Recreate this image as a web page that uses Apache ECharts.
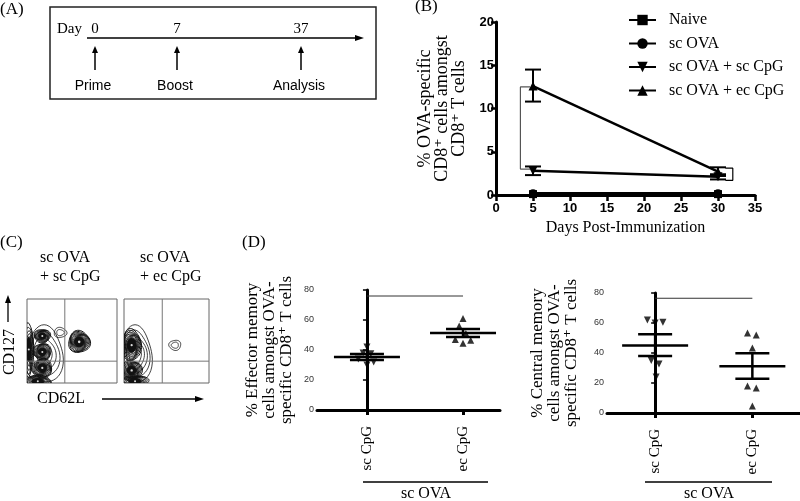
<!DOCTYPE html>
<html><head><meta charset="utf-8">
<script src="https://cdn.jsdelivr.net/npm/echarts@6/dist/echarts.min.js"></script>
<style>html,body{margin:0;padding:0;background:#fff}#c{width:800px;height:501px}</style>
</head><body><div id="c"></div>
<script>
// ---------- Panel A (schematic timeline) ----------
const timelineDays = ['0', '7', '37'];
const timelineEvents = ['Prime', 'Boost', 'Analysis'];

// ---------- Panel B ----------
const bDays = [5, 30];
const bNames = ['Naive', 'sc OVA', 'sc OVA + sc CpG', 'sc OVA + ec CpG'];
const bNaive = [0.1, 0.1];
const bScOva = [0.2, 0.2];
const bScCpg = [2.8, 2.1];
const bScCpgLow = [2.3, 1.8];
const bScCpgHigh = [3.3, 2.4];
const bEcCpg = [12.6, 2.7];
const bEcCpgLow = [10.8, 2.2];
const bEcCpgHigh = [14.5, 3.2];

// ---------- Panel C (flow contour sketches, % of plot box) ----------
const cTitles = [['sc OVA', '+ sc CpG'], ['sc OVA', '+ ec CpG']];
const cQuadLeft = ['41.1', '60.4'];
const cQuadRight = ['23.0', '5.38'];
const cGateX = [42, 45];
const cGateY = [26, 26];
// blob: [cx, cy, rx, ry, rings, dense]
const cBlobs1 = [
  [19, 33, 21, 34, 4, 0],
  [37, 60, 7, 6, 2, 0],
  [2, 40, 5, 32, 6, 1],
  [17, 56, 9, 8, 9, 1],
  [17, 37, 10, 10, 9, 1],
  [17, 18, 11, 11, 9, 1],
  [12, 2, 15, 7, 8, 1],
  [58, 49, 12, 13, 11, 1]
];
const cBlobs2 = [
  [13, 33, 20, 34, 5, 0],
  [9, 45, 11, 19, 10, 1],
  [9, 15, 12, 12, 9, 1],
  [13, 2, 16, 7, 8, 1],
  [60, 45, 7, 6, 2, 0]
];

// ---------- Panel D ----------
const dCategories = ['sc CpG', 'ec CpG'];
const dGroupLabel = 'sc OVA';
const dEffScJitter = [0, -0.04, 0.04, -0.09, 0.07, 0];
const dEffSc = [42, 38, 37.5, 34, 32, 30];
const dEffEcJitter = [0, -0.04, 0.03, -0.08, 0.08, 0];
const dEffEc = [61, 56, 51, 47, 46.5, 44.5];
const dEffMean = [35.3, 51.3];
const dEffLow = [33.3, 48.7];
const dEffHigh = [37.3, 54.0];
const dCenScJitter = [-0.08, 0, 0.08, -0.04, 0.04, 0.01];
const dCenSc = [62, 60, 60.5, 35, 32.7, 24];
const dCenEcJitter = [-0.05, 0.04, 0, -0.05, 0.04, 0];
const dCenEc = [53.3, 52, 43.3, 18, 16.7, 4.7];
const dCenMean = [45, 31.1];
const dCenLow = [38, 22.9];
const dCenHigh = [52.5, 39.8];

const SERIF = '"Liberation Serif","DejaVu Serif",serif';
const SANS = '"Liberation Sans","DejaVu Sans",Arial,sans-serif';

const chart = echarts.init(document.getElementById('c'));

function errItem(half) {
  return function (params, api) {
    const x = api.value(0);
    const lo = api.coord([x, api.value(1)]);
    const hi = api.coord([x, api.value(2)]);
    const st = { stroke: '#000', lineWidth: 2, fill: 'none' };
    return { type: 'group', children: [
      { type: 'line', shape: { x1: lo[0], y1: lo[1], x2: hi[0], y2: hi[1] }, style: st },
      { type: 'line', shape: { x1: lo[0] - half, y1: lo[1], x2: lo[0] + half, y2: lo[1] }, style: st },
      { type: 'line', shape: { x1: hi[0] - half, y1: hi[1], x2: hi[0] + half, y2: hi[1] }, style: st }
    ]};
  };
}
function meanItem(params, api) {
  const x = api.value(0);
  const m = api.coord([x, api.value(1)]);
  const lo = api.coord([x, api.value(2)]);
  const hi = api.coord([x, api.value(3)]);
  const st = { stroke: '#000', lineWidth: 2.5, fill: 'none' };
  return { type: 'group', children: [
    { type: 'line', shape: { x1: m[0] - 33, y1: m[1], x2: m[0] + 33, y2: m[1] }, style: st },
    { type: 'line', shape: { x1: lo[0], y1: lo[1], x2: hi[0], y2: hi[1] }, style: st },
    { type: 'line', shape: { x1: lo[0] - 17, y1: lo[1], x2: lo[0] + 17, y2: lo[1] }, style: st },
    { type: 'line', shape: { x1: hi[0] - 17, y1: hi[1], x2: hi[0] + 17, y2: hi[1] }, style: st }
  ]};
}
function contourItem(params, api) {
  const c = api.coord([api.value(0), api.value(1)]);
  const sz = api.size([api.value(2), api.value(3)]);
  const n = api.value(4), dense = api.value(5);
  const children = [];
  for (let k = 0; k < n; k++) {
    const s = 1 - k * (0.8 / n);
    const pts = [];
    for (let t = 0; t < 48; t++) {
      const a = t / 48 * 2 * Math.PI;
      const w = 1 + 0.07 * Math.sin(3 * a + k * 0.7 + params.dataIndex);
      pts.push([c[0] + sz[0] * s * w * Math.cos(a), c[1] + sz[1] * s * w * Math.sin(a)]);
    }
    children.push({ type: 'polygon', shape: { points: pts }, style: { fill: 'none', stroke: '#111', lineWidth: dense ? 1 : 0.8 } });
  }
  if (dense) {
    const pts = [];
    for (let t = 0; t < 36; t++) {
      const a = t / 36 * 2 * Math.PI;
      pts.push([c[0] + sz[0] * 0.45 * Math.cos(a), c[1] + sz[1] * 0.45 * Math.sin(a)]);
    }
    children.push({ type: 'polygon', shape: { points: pts }, style: { fill: '#111', stroke: '#111' } });
    children.push({ type: 'circle', shape: { cx: c[0], cy: c[1], r: Math.max(1, Math.min(sz[0], sz[1]) * 0.12) }, style: { fill: '#ddd' } });
  }
  return { type: 'group', children };
}

const bAxisLabel = { color: '#000', fontFamily: SANS, fontWeight: 'bold', fontSize: 13 };
const dAxisLabel = { color: '#333', fontFamily: SANS, fontSize: 9, margin: 3 };
const thickAxis = { lineStyle: { color: '#000', width: 3 } };

const graphics = [];
// panel letters
graphics.push({ type: 'text', x: 0, y: 10, style: { text: '(A)', font: '17px ' + SERIF, fill: '#000', verticalAlign: 'middle' } });
graphics.push({ type: 'text', x: 415, y: 7, style: { text: '(B)', font: '17px ' + SERIF, fill: '#000', verticalAlign: 'middle' } });
graphics.push({ type: 'text', x: 0, y: 243, style: { text: '(C)', font: '17px ' + SERIF, fill: '#000', verticalAlign: 'middle' } });
graphics.push({ type: 'text', x: 242, y: 243, style: { text: '(D)', font: '17px ' + SERIF, fill: '#000', verticalAlign: 'middle' } });
// Panel A
graphics.push({ type: 'rect', shape: { x: 50, y: 7, width: 326, height: 92 }, style: { fill: 'none', stroke: '#222', lineWidth: 1.5 } });
graphics.push({ type: 'text', x: 57, y: 29, style: { text: 'Day', font: '15px ' + SERIF, fill: '#000', verticalAlign: 'middle' } });
graphics.push({ type: 'line', shape: { x1: 87, y1: 38, x2: 358, y2: 38 }, style: { stroke: '#000', lineWidth: 1.3 } });
graphics.push({ type: 'polygon', shape: { points: [[355, 35], [364, 38], [355, 41]] }, style: { fill: '#000' } });
const aX = [95, 177, 301];
timelineDays.forEach((d, i) => {
  graphics.push({ type: 'text', x: aX[i], y: 29, style: { text: d, font: '15px ' + SERIF, fill: '#000', align: 'center', verticalAlign: 'middle' } });
  graphics.push({ type: 'line', shape: { x1: aX[i], y1: 70, x2: aX[i], y2: 52 }, style: { stroke: '#000', lineWidth: 1.5 } });
  graphics.push({ type: 'polygon', shape: { points: [[aX[i] - 3, 53], [aX[i], 46], [aX[i] + 3, 53]] }, style: { fill: '#000' } });
  graphics.push({ type: 'text', x: aX[i] - 2, y: 86, style: { text: timelineEvents[i], font: '14px ' + SANS, fill: '#000', align: 'center', verticalAlign: 'middle' } });
});
// Panel C labels
const cTX = [40, 140];
cTitles.forEach((t, i) => {
  graphics.push({ type: 'text', x: cTX[i], y: 258, style: { text: t[0], font: '16px ' + SERIF, fill: '#000', verticalAlign: 'middle' } });
  graphics.push({ type: 'text', x: cTX[i], y: 277, style: { text: t[1], font: '16px ' + SERIF, fill: '#000', verticalAlign: 'middle' } });
});
graphics.push({ type: 'text', x: 10, y: 352, rotation: Math.PI / 2, style: { text: 'CD127', font: '16px ' + SERIF, fill: '#000', align: 'center', verticalAlign: 'middle' } });
graphics.push({ type: 'line', shape: { x1: 8, y1: 322, x2: 8, y2: 302 }, style: { stroke: '#000', lineWidth: 1.3 } });
graphics.push({ type: 'polygon', shape: { points: [[5, 303], [8, 295], [11, 303]] }, style: { fill: '#000' } });
graphics.push({ type: 'text', x: 37, y: 399, style: { text: 'CD62L', font: '16px ' + SERIF, fill: '#000', verticalAlign: 'middle' } });
graphics.push({ type: 'line', shape: { x1: 102, y1: 399, x2: 197, y2: 399 }, style: { stroke: '#000', lineWidth: 1.3 } });
graphics.push({ type: 'polygon', shape: { points: [[195, 396], [204, 399], [195, 402]] }, style: { fill: '#000' } });
// Panel D group labels
[[363, 488, 426], [645, 772, 709]].forEach(g => {
  graphics.push({ type: 'line', shape: { x1: g[0], y1: 482, x2: g[1], y2: 482 }, style: { stroke: '#000', lineWidth: 1.3 } });
  graphics.push({ type: 'text', x: g[2], y: 494, style: { text: dGroupLabel, font: '16px ' + SERIF, fill: '#000', align: 'center', verticalAlign: 'middle' } });
});

const dXBase = (grid, min, max) => ({
  gridIndex: grid, type: 'value', min: min, max: max,
  axisLine: thickAxis,
  axisTick: { show: true, customValues: [0, 1], length: 5, lineStyle: { color: '#000', width: 3 } },
  axisLabel: { customValues: [0, 1], rotate: 90, margin: 16, color: '#000', fontFamily: SERIF, fontSize: 15,
    formatter: v => dCategories[Math.round(v)] },
  splitLine: { show: false }
});
const dYBase = (grid, name, gap) => ({
  gridIndex: grid, type: 'value', min: 0, max: 80, interval: 20,
  axisLine: { show: true, lineStyle: { color: '#000', width: 3 } },
  axisTick: { show: true, length: 4, lineStyle: { color: '#000', width: 1.5 } },
  axisLabel: dAxisLabel, splitLine: { show: false },
  name: name, nameLocation: 'middle', nameGap: gap,
  nameTextStyle: { fontFamily: SERIF, fontSize: 17, lineHeight: 17, color: '#000' }
});
const hiddenAxis = (grid) => ({ gridIndex: grid, type: 'value', min: 0, max: 100, show: false });

const option = {
  backgroundColor: '#fff',
  animation: false,
  graphic: graphics,
  legend: {
    show: true, left: 623, top: 7, orient: 'vertical', itemWidth: 27, itemHeight: 13, itemGap: 7.5,
    data: bNames,
    textStyle: { fontFamily: SERIF, fontSize: 16, color: '#000', padding: [0, 0, 0, 8] }
  },
  grid: [
    { left: 496, top: 22, width: 259, height: 173 },
    { left: 317, top: 290, width: 183, height: 120 },
    { left: 607, top: 293, width: 193, height: 120 },
    { left: 27, top: 299, width: 90, height: 84, show: true, borderColor: '#666', borderWidth: 1, backgroundColor: 'transparent' },
    { left: 124, top: 299, width: 85, height: 84, show: true, borderColor: '#666', borderWidth: 1, backgroundColor: 'transparent' }
  ],
  xAxis: [
    { gridIndex: 0, type: 'value', min: 0, max: 35, interval: 5,
      axisLine: thickAxis, axisTick: { length: 6, lineStyle: { color: '#000', width: 2.5 } },
      axisLabel: Object.assign({ margin: 7 }, bAxisLabel), splitLine: { show: false },
      name: 'Days Post-Immunization', nameLocation: 'middle', nameGap: 25,
      nameTextStyle: { fontFamily: SERIF, fontSize: 16, color: '#000' } },
    dXBase(1, -0.52, 1.385),
    dXBase(2, -0.495, 1.49),
    hiddenAxis(3), hiddenAxis(4)
  ],
  yAxis: [
    { gridIndex: 0, type: 'value', min: 0, max: 20, interval: 5,
      axisLine: { show: true, lineStyle: { color: '#000', width: 3 } },
      axisTick: { show: true, length: 5, lineStyle: { color: '#000', width: 2.5 } },
      axisLabel: Object.assign({ margin: 2 }, bAxisLabel), splitLine: { show: false },
      name: '% OVA-specific\nCD8⁺ cells amongst\nCD8⁺ T cells', nameLocation: 'middle', nameGap: 28,
      nameTextStyle: { fontFamily: SERIF, fontSize: 18, lineHeight: 17, color: '#000' } },
    dYBase(1, '% Effector memory\ncells amongst OVA-\nspecific CD8⁺ T cells', 22),
    dYBase(2, '% Central memory\ncells amongst OVA-\nspecific CD8⁺ T cells', 27),
    hiddenAxis(3), hiddenAxis(4)
  ],
  series: [
    // ----- Panel B -----
    { name: bNames[0], type: 'line', xAxisIndex: 0, yAxisIndex: 0, symbol: 'rect', symbolSize: 8,
      data: bDays.map((d, i) => [d, bNaive[i]]), lineStyle: { color: '#000', width: 2.5 }, itemStyle: { color: '#000' } },
    { name: bNames[1], type: 'line', xAxisIndex: 0, yAxisIndex: 0, symbol: 'circle', symbolSize: 8,
      data: bDays.map((d, i) => [d, bScOva[i]]), lineStyle: { color: '#000', width: 2.5 }, itemStyle: { color: '#000' } },
    { name: bNames[2], type: 'line', xAxisIndex: 0, yAxisIndex: 0, symbol: 'triangle', symbolRotate: 180, symbolSize: 9,
      data: bDays.map((d, i) => [d, bScCpg[i]]), lineStyle: { color: '#000', width: 2.5 }, itemStyle: { color: '#000' } },
    { name: bNames[3], type: 'line', xAxisIndex: 0, yAxisIndex: 0, symbol: 'triangle', symbolSize: 9,
      data: bDays.map((d, i) => [d, bEcCpg[i]]), lineStyle: { color: '#000', width: 2.5 }, itemStyle: { color: '#000' } },
    { type: 'custom', xAxisIndex: 0, yAxisIndex: 0, renderItem: errItem(8),
      data: bDays.map((d, i) => [d, bScCpgLow[i], bScCpgHigh[i]]), z: 5 },
    { type: 'custom', xAxisIndex: 0, yAxisIndex: 0, renderItem: errItem(8),
      data: bDays.map((d, i) => [d, bEcCpgLow[i], bEcCpgHigh[i]]), z: 5 },
    { type: 'line', xAxisIndex: 0, yAxisIndex: 0, symbol: 'none', clip: false, silent: true,
      data: [[4.6, 12.5], [3.3, 12.5], [3.3, 3.0], [4.6, 3.0]], lineStyle: { color: '#555', width: 1.2 } },
    { type: 'line', xAxisIndex: 0, yAxisIndex: 0, symbol: 'none', clip: false, silent: true,
      data: [[31.0, 3.1], [32.0, 3.1], [32.0, 1.7], [31.0, 1.7]], lineStyle: { color: '#000', width: 1.2 } },
    { type: 'scatter', xAxisIndex: 0, yAxisIndex: 0, symbolSize: 1, itemStyle: { opacity: 0 }, clip: false, silent: true,
      data: [{ value: [5.7, 7.4], label: { formatter: '***', color: '#666', fontSize: 15, fontFamily: SANS } },
             { value: [34.2, 2.5], label: { formatter: 'ns', color: '#000', fontSize: 16, fontFamily: SERIF } }],
      label: { show: true, position: 'inside' } },
    // ----- Panel C -----
    { type: 'custom', xAxisIndex: 3, yAxisIndex: 3, renderItem: contourItem, clip: true, data: cBlobs1 },
    { type: 'custom', xAxisIndex: 4, yAxisIndex: 4, renderItem: contourItem, clip: true, data: cBlobs2 },
    { type: 'line', xAxisIndex: 3, yAxisIndex: 3, symbol: 'none', data: [[cGateX[0], 0], [cGateX[0], 100]], lineStyle: { color: '#777', width: 1 } },
    { type: 'line', xAxisIndex: 3, yAxisIndex: 3, symbol: 'none', data: [[0, cGateY[0]], [100, cGateY[0]]], lineStyle: { color: '#777', width: 1 } },
    { type: 'line', xAxisIndex: 4, yAxisIndex: 4, symbol: 'none', data: [[cGateX[1], 0], [cGateX[1], 100]], lineStyle: { color: '#777', width: 1 } },
    { type: 'line', xAxisIndex: 4, yAxisIndex: 4, symbol: 'none', data: [[0, cGateY[1]], [100, cGateY[1]]], lineStyle: { color: '#777', width: 1 } },
    { type: 'scatter', xAxisIndex: 3, yAxisIndex: 3, symbolSize: 1, itemStyle: { opacity: 0 }, silent: true,
      data: [{ value: [3, 92], label: { align: 'left', formatter: cQuadLeft[0] } }, { value: [97, 92], label: { align: 'right', formatter: cQuadRight[0] } }],
      label: { show: true, position: 'inside', color: '#000', fontFamily: SERIF, fontSize: 12 } },
    { type: 'scatter', xAxisIndex: 4, yAxisIndex: 4, symbolSize: 1, itemStyle: { opacity: 0 }, silent: true,
      data: [{ value: [3, 92], label: { align: 'left', formatter: cQuadLeft[1] } }, { value: [99, 92], label: { align: 'right', formatter: cQuadRight[1] } }],
      label: { show: true, position: 'inside', color: '#000', fontFamily: SERIF, fontSize: 12 } },
    // ----- Panel D left -----
    { type: 'scatter', xAxisIndex: 1, yAxisIndex: 1, symbol: 'triangle', symbolRotate: 180, symbolSize: 7, itemStyle: { color: '#000' },
      data: dEffSc.map((v, i) => [0 + dEffScJitter[i], v]) },
    { type: 'scatter', xAxisIndex: 1, yAxisIndex: 1, symbol: 'triangle', symbolSize: 7, itemStyle: { color: '#000' },
      data: dEffEc.map((v, i) => [1 + dEffEcJitter[i], v]) },
    { type: 'custom', xAxisIndex: 1, yAxisIndex: 1, renderItem: meanItem, z: 5,
      data: dEffMean.map((m, i) => [i, m, dEffLow[i], dEffHigh[i]]) },
    { type: 'line', xAxisIndex: 1, yAxisIndex: 1, symbol: 'none', clip: false, data: [[0, 76], [1, 76]], lineStyle: { color: '#333', width: 1 } },
    { type: 'scatter', xAxisIndex: 1, yAxisIndex: 1, symbolSize: 1, itemStyle: { opacity: 0 }, clip: false, silent: true,
      data: [{ value: [0.5, 81.5], label: { formatter: '***', color: '#666', fontSize: 14, fontFamily: SANS } }],
      label: { show: true, position: 'inside' } },
    // ----- Panel D right -----
    { type: 'scatter', xAxisIndex: 2, yAxisIndex: 2, symbol: 'triangle', symbolRotate: 180, symbolSize: 7, itemStyle: { color: '#000' },
      data: dCenSc.map((v, i) => [0 + dCenScJitter[i], v]) },
    { type: 'scatter', xAxisIndex: 2, yAxisIndex: 2, symbol: 'triangle', symbolSize: 7, itemStyle: { color: '#000' },
      data: dCenEc.map((v, i) => [1 + dCenEcJitter[i], v]) },
    { type: 'custom', xAxisIndex: 2, yAxisIndex: 2, renderItem: meanItem, z: 5,
      data: dCenMean.map((m, i) => [i, m, dCenLow[i], dCenHigh[i]]) },
    { type: 'line', xAxisIndex: 2, yAxisIndex: 2, symbol: 'none', clip: false, data: [[0, 76.5], [1, 76.5]], lineStyle: { color: '#333', width: 1 } },
    { type: 'scatter', xAxisIndex: 2, yAxisIndex: 2, symbolSize: 1, itemStyle: { opacity: 0 }, clip: false, silent: true,
      data: [{ value: [0.5, 82], label: { formatter: 'ns', color: '#000', fontSize: 16, fontFamily: SERIF } }],
      label: { show: true, position: 'inside' } }
  ]
};
chart.setOption(option);
</script>
</body></html>
